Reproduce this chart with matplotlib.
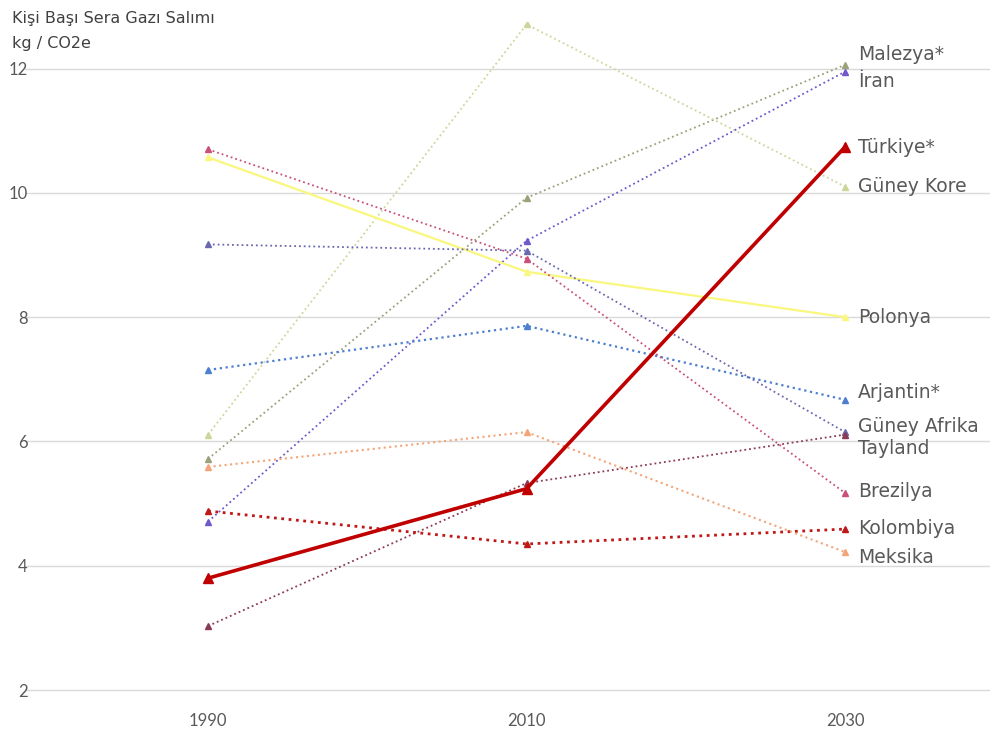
import matplotlib
matplotlib.use("Agg")
import matplotlib.pyplot as plt

plt.rcParams['font.family'] = ['Lato', 'DejaVu Sans']

years = ["1990", "2010", "2030"]

countries = ["Malezya*", "Güney Kore", "İran", "Polonya", "Arjantin*",
             "Güney Afrika", "Tayland", "Brezilya", "Kolombiya", "Meksika",
             "Türkiye*"]

malezya = [5.72, 9.92, 12.06]
guney_kore = [6.11, 12.71, 10.10]
iran = [4.71, 9.23, 11.95]
polonya = [10.57, 8.73, 8.00]
arjantin = [7.15, 7.86, 6.67]
guney_afrika = [9.17, 9.07, 6.15]
tayland = [3.03, 5.33, 6.11]
brezilya = [10.70, 8.94, 5.17]
kolombiya = [4.88, 4.35, 4.59]
meksika = [5.59, 6.15, 4.22]
turkiye = [3.80, 5.24, 10.74]

values = [malezya, guney_kore, iran, polonya, arjantin, guney_afrika,
          tayland, brezilya, kolombiya, meksika, turkiye]

# line styling per country: colour, linestyle, linewidth, marker size
styles = {
    "Malezya*":     ("#9aa27a", ":", 1.3, 4),
    "Güney Kore":   ("#cdd69a", ":", 1.3, 4),
    "İran":         ("#7057cc", ":", 1.3, 4),
    "Polonya":      ("#f9f77e", "-", 1.6, 5),
    "Arjantin*":    ("#4d7fd0", ":", 1.6, 4),
    "Güney Afrika": ("#6a68b0", ":", 1.3, 4),
    "Tayland":      ("#8b3a55", ":", 1.3, 4),
    "Brezilya":     ("#c8507a", ":", 1.3, 4),
    "Kolombiya":    ("#c01818", ":", 2.0, 4),
    "Meksika":      ("#f4a578", ":", 1.5, 4),
    "Türkiye*":     ("#c00000", "-", 2.6, 7),
}

# vertical position of the right-hand labels (data units)
label_y = {
    "Malezya*": 12.23, "İran": 11.79, "Türkiye*": 10.73, "Güney Kore": 10.10,
    "Polonya": 8.00, "Arjantin*": 6.78, "Güney Afrika": 6.24, "Tayland": 5.88,
    "Brezilya": 5.19, "Kolombiya": 4.60, "Meksika": 4.13,
}

fig = plt.figure(figsize=(9.98, 7.31), dpi=100)
# axes spans y from 1.95 to 12.75 so the bottom gridline is fully drawn
ax = fig.add_axes([0.025, 0.0518, 0.967, 0.9182])

x = list(range(len(years)))
for name, vals in zip(countries, values):
    c, ls, lw, ms = styles[name]
    ax.plot(x, vals, color=c, linestyle=ls, linewidth=lw, marker="^",
            markersize=ms, markerfacecolor=c, markeredgecolor=c,
            zorder=5 if name == "Türkiye*" else 3)
    ax.text(2 + 0.04, label_y[name], name, fontsize=13.5, color="#595959",
            va="center", ha="left", family="DejaVu Sans")

ax.set_xlim(-0.575, 2.455)
ax.set_ylim(1.95, 12.75)
ax.set_yticks([2, 4, 6, 8, 10, 12])
ax.set_xticks(x)
ax.set_xticklabels(years)
ax.grid(axis="y", color="#d9d9d9", linewidth=1.0)
ax.set_axisbelow(True)
for s in ax.spines.values():
    s.set_visible(False)
ax.tick_params(axis="both", length=0, labelsize=12, colors="#595959")
ax.tick_params(axis="y", pad=-2)
ax.tick_params(axis="x", pad=14)

fig.text(0.012, 0.975, "Kişi Başı Sera Gazı Salımı", fontsize=11.5,
         color="#404040", va="center", ha="left", family="DejaVu Sans")
fig.text(0.012, 0.941, "kg / CO2e", fontsize=11.5, color="#404040",
         va="center", ha="left", family="DejaVu Sans")

fig.savefig("out.png", dpi=100)
